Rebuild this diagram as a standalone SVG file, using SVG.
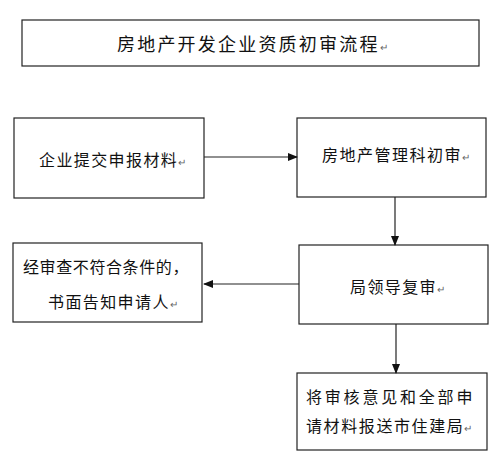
<svg xmlns="http://www.w3.org/2000/svg" width="500" height="459" viewBox="0 0 500 459">
<defs>
<style>
.box{fill:#fff;stroke:#222;stroke-width:1.2}
.t{font-family:"Noto Sans CJK SC","Liberation Sans",sans-serif;font-size:16px;fill:#111}
.pm{font-size:10px;fill:#666;letter-spacing:0}
.ln{stroke:#222;stroke-width:1.2;fill:none}
</style>
<marker id="ah" markerWidth="10" markerHeight="8" refX="9" refY="4" orient="auto" markerUnits="userSpaceOnUse">
<path d="M0,0 L10,4 L0,8 z" fill="#111"/>
</marker>
</defs>
<rect width="500" height="459" fill="#fff"/>
<g id="title">
<rect class="box" x="22" y="20" width="457" height="46"/>
<text class="t" x="117" y="51" style="font-size:18px;letter-spacing:2.2px">房地产开发企业资质初审流程<tspan class="pm">↵</tspan></text>
</g>
<g id="n1">
<rect class="box" x="14" y="118" width="190" height="80"/>
<text class="t" x="39" y="166" style="letter-spacing:1.4px">企业提交申报材料<tspan class="pm">↵</tspan></text>
</g>
<g id="n2">
<rect class="box" x="297" y="118" width="189" height="79"/>
<text class="t" x="322" y="161" style="letter-spacing:1.5px">房地产管理科初审<tspan class="pm">↵</tspan></text>
</g>
<g id="n3">
<rect class="box" x="299" y="245" width="189" height="79"/>
<text class="t" x="350" y="293" style="letter-spacing:1.4px">局领导复审<tspan class="pm">↵</tspan></text>
</g>
<g id="n4">
<rect class="box" x="13" y="243" width="189" height="79"/>
<text class="t" x="23" y="273" style="letter-spacing:0.6px">经审查不符合条件的，</text>
<text class="t" x="48" y="308" style="letter-spacing:1.4px">书面告知申请人<tspan class="pm">↵</tspan></text>
</g>
<g id="n5">
<rect class="box" x="297" y="373" width="190" height="77"/>
<text class="t" x="306" y="403" style="letter-spacing:2.8px">将审核意见和全部申</text>
<text class="t" x="306" y="432" style="letter-spacing:1.6px">请材料报送市住建局<tspan class="pm">↵</tspan></text>
</g>
<g id="connectors">
<line class="ln" x1="204" y1="157" x2="297" y2="157" marker-end="url(#ah)"/>
<line class="ln" x1="395" y1="197" x2="395" y2="245" marker-end="url(#ah)"/>
<line class="ln" x1="299" y1="284" x2="204" y2="284" marker-end="url(#ah)"/>
<line class="ln" x1="396" y1="324" x2="396" y2="373" marker-end="url(#ah)"/>
</g>
</svg>
